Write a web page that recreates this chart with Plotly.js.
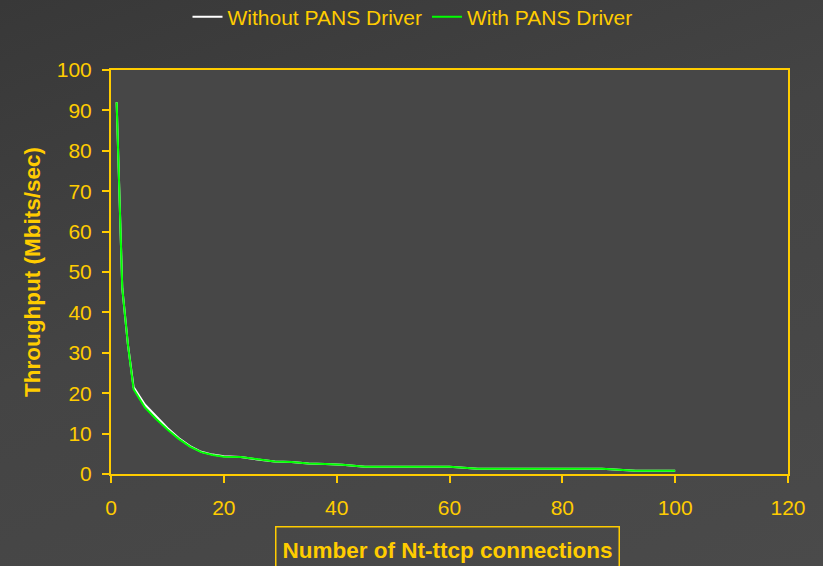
<!DOCTYPE html>
<html>
<head>
<meta charset="utf-8">
<script src="https://cdn.plot.ly/plotly-3.0.1.min.js"></script>
<style>
html,body{margin:0;padding:0;width:823px;height:566px;overflow:hidden;
background:linear-gradient(160deg,#383838 0%,#444444 45%,#4a4a4a 100%);}
#chart{width:823px;height:566px;}
</style>
</head>
<body>
<div id="chart"></div>
<script>
const connections = [1, 2, 3, 4, 6, 8, 10, 12, 14, 16, 18, 20, 23, 26, 29, 32, 35, 38, 41, 45, 50, 55, 60, 65, 70, 75, 80, 87, 93, 100];
const withoutPans = [92, 46, 32, 21.5, 17.2, 14.2, 11.4, 8.9, 6.9, 5.5, 4.8, 4.4, 4.2, 3.6, 3.1, 3.0, 2.6, 2.5, 2.3, 1.8, 1.8, 1.8, 1.8, 1.3, 1.3, 1.3, 1.3, 1.3, 0.8, 0.8];
const withPans = [92, 46, 32, 21, 16.5, 13.6, 11, 8.7, 6.8, 5.4, 4.7, 4.3, 4.2, 3.6, 3.1, 3.0, 2.6, 2.5, 2.3, 1.8, 1.8, 1.8, 1.8, 1.3, 1.3, 1.3, 1.3, 1.3, 0.8, 0.8];
const seriesNames = ["Without PANS Driver", "With PANS Driver"];
const xTicks = [0, 20, 40, 60, 80, 100, 120];
const yTicks = [0, 10, 20, 30, 40, 50, 60, 70, 80, 90, 100];

const gold = "#FFCC00";
const fontFam = "Liberation Sans, Arial, sans-serif";

const traces = [
  {x: connections, y: withoutPans, name: seriesNames[0], mode: "lines",
   line: {color: "#ffffff", width: 2}},
  {x: connections, y: withPans, name: seriesNames[1], mode: "lines",
   line: {color: "#00ff00", width: 2}}
];

const layout = {
  width: 823, height: 566,
  paper_bgcolor: "rgba(0,0,0,0)",
  plot_bgcolor: "#474747",
  margin: {l: 111, r: 35, t: 70, b: 92, autoexpand: false},
  font: {family: fontFam, color: gold, size: 21},
  showlegend: true,
  legend: {orientation: "h", x: 0.5 - 37 / 677, xanchor: "center", y: 1 + (70 - 17) / 404, yanchor: "middle",
           font: {size: 21, color: gold}, bgcolor: "rgba(0,0,0,0)", itemwidth: 30},
  xaxis: {range: [0, 120], tickvals: xTicks, ticks: "outside", ticklen: 7, tickwidth: 2,
          tickcolor: gold, showline: true, linecolor: gold, linewidth: 2, mirror: true,
          showgrid: false, zeroline: false, tickfont: {size: 21, color: gold},
          ticklabelstandoff: 7, fixedrange: true},
  yaxis: {range: [0, 100], tickvals: yTicks, ticks: "outside", ticklen: 7, tickwidth: 2,
          tickcolor: gold, showline: true, linecolor: gold, linewidth: 2, mirror: true,
          showgrid: false, zeroline: false, tickfont: {size: 21, color: gold},
          ticklabelstandoff: 6,
          title: {text: "<b>Throughput (Mbits/sec)</b>", font: {size: 22.5, color: gold}, standoff: 10},
          fixedrange: true},
  annotations: [{
    xref: "paper", yref: "paper", x: (447 - 111) / 677, y: -(550 - 474) / 404,
    xanchor: "center", yanchor: "middle",
    text: "<b>Number of Nt-ttcp connections</b>", showarrow: false,
    font: {size: 22.5, color: gold}, bordercolor: gold, borderwidth: 1.5,
    width: 340, height: 44, borderpad: 1
  }]
};

Plotly.newPlot("chart", traces, layout, {displayModeBar: false, staticPlot: true});
</script>
</body>
</html>
